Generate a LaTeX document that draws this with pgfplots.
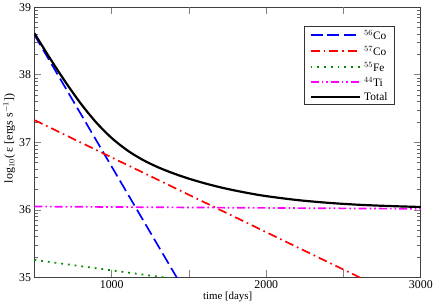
\documentclass[border=0pt]{standalone}
\usepackage{fontspec}
\setmainfont{Liberation Serif}
\usepackage{pgfplots}
\pgfplotsset{compat=1.18}
\definecolor{cblue}{RGB}{0,0,255}
\definecolor{cred}{RGB}{255,0,0}
\definecolor{cgreen}{RGB}{0,140,0}
\definecolor{cmag}{RGB}{255,0,255}
\tikzset{
  sCo56/.style={color=cblue, line width=1.7bp, dash pattern=on 12bp off 5bp},
  sCo57/.style={color=cred, line width=1.7bp, dash pattern=on 9bp off 4bp on 1.7bp off 4bp},
  sFe55/.style={color=cgreen, line width=1.8bp, dash pattern=on 1.8bp off 5bp},
  sTi44/.style={color=cmag, line width=1.7bp, dash pattern=on 8bp off 3bp on 1.7bp off 3bp on 1.7bp off 3bp},
  sTot/.style={color=black, line width=2.2bp},
  legtext/.style={anchor=west, inner sep=0pt, font=\fontsize{11.5}{13}\selectfont},
}
\begin{document}
\begin{tikzpicture}
\begin{axis}[
  scale only axis,
  width=389bp, height=272bp,
  xmin=500, xmax=3000,
  ymin=35, ymax=39,
  xtick={1000,2000,3000},
  extra x ticks={1500,2500},
  extra x tick labels={},
  ytick={35,36,37,38,39},
  minor ytick={35.30103,35.47712,35.60206,35.69897,35.77815,35.84510,35.90309,35.95424,
               36.30103,36.47712,36.60206,36.69897,36.77815,36.84510,36.90309,36.95424,
               37.30103,37.47712,37.60206,37.69897,37.77815,37.84510,37.90309,37.95424,
               38.30103,38.47712,38.60206,38.69897,38.77815,38.84510,38.90309,38.95424},
  tick align=inside,
  major tick length=7bp,
  minor tick length=3.5bp,
  every major tick/.style={gray, line width=0.8bp},
  every minor tick/.style={gray!80!black, line width=0.6bp},
  axis line style={black!75, line width=0.9bp},
  xticklabel style={/pgf/number format/1000 sep={}},
  /pgf/number format/assume math mode=true,
  tick label style={font=\fontsize{12}{14}\selectfont},
  xlabel={time [days]},
  ylabel={log$_{10}$( ε [ergs s$^{-1}$])},
  xlabel style={font=\fontsize{11}{13}\selectfont, yshift=4bp},
  ylabel style={font=\fontsize{12}{14}\selectfont, yshift=-3bp, xshift=4bp},
  clip=true,
]
\addplot[sCo56] coordinates {(500,38.59) (1450,34.885)};
\addplot[sCo57] coordinates {(500,37.33) (3000,34.5625)};
\addplot[sFe55] coordinates {(500,35.26) (3000,34.485)};
\addplot[sTi44] coordinates {(500,36.05) (3000,36.016)};
\addplot[sTot, smooth] coordinates {
 (500,38.615) (600,38.246) (700,37.896) (800,37.574) (900,37.294) (1000,37.064)
 (1100,36.883) (1200,36.742) (1300,36.631) (1400,36.540) (1500,36.462)
 (1600,36.395) (1700,36.336) (1800,36.286) (1900,36.242) (2000,36.204)
 (2200,36.146) (2400,36.105) (2600,36.076) (2800,36.057) (3000,36.043)};
% legend
\draw[black!80, line width=0.8bp, fill=white] (rel axis cs:0.6992,0.9301) rectangle (rel axis cs:0.9306,0.6397);
\draw[sCo56] (rel axis cs:0.7147,0.8971) -- (rel axis cs:0.8432,0.8971);
\node[legtext] at (rel axis cs:0.853,0.8971) {$^{56}$Co};
\draw[sCo57] (rel axis cs:0.7147,0.8382) -- (rel axis cs:0.8432,0.8382);
\node[legtext] at (rel axis cs:0.853,0.8382) {$^{57}$Co};
\draw[sFe55] (rel axis cs:0.7147,0.7794) -- (rel axis cs:0.8432,0.7794);
\node[legtext] at (rel axis cs:0.853,0.7794) {$^{55}$Fe};
\draw[sTi44] (rel axis cs:0.7147,0.7243) -- (rel axis cs:0.8432,0.7243);
\node[legtext] at (rel axis cs:0.853,0.7243) {$^{44}$Ti};
\draw[sTot] (rel axis cs:0.7147,0.6691) -- (rel axis cs:0.8432,0.6691);
\node[legtext] at (rel axis cs:0.853,0.6691) {Total};
\end{axis}
\end{tikzpicture}
\end{document}
